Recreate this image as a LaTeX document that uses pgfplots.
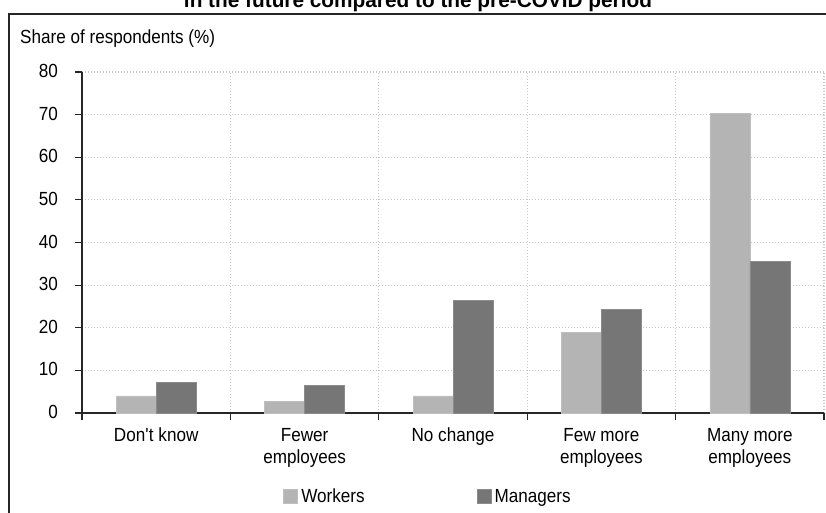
\documentclass[border=0pt]{standalone}
\usepackage{fontspec}
\setmainfont{Liberation Sans}[FakeStretch=0.9]
\newfontfamily\titlefont{Liberation Sans}
\usepackage{pgfplots}
\pgfplotsset{compat=1.18}
\definecolor{wk}{RGB}{180,180,180}
\definecolor{mg}{RGB}{118,118,118}
\definecolor{gridc}{RGB}{200,200,200}
\begin{document}
\begin{tikzpicture}[x=1pt,y=1pt,font=\fontsize{19}{22}\selectfont]
\useasboundingbox (-82,-99) rectangle (744,413);
\draw[line width=1.3pt, black!85] (-73,399) rectangle (790,-140);
\node[anchor=base, font=\titlefont\fontsize{20.8}{22}\selectfont\bfseries] at (336,405.5) {in the future compared to the pre-COVID period};
\node[anchor=base west, inner sep=0pt] at (-62,369) {Share of respondents (\%)};
\begin{axis}[
  at={(0,0)}, anchor=south west,
  scale only axis, width=742pt, height=341pt,
  xmin=-0.5, xmax=4.5, ymin=0, ymax=80,
  /pgfplots/ybar legend/.style={/pgfplots/legend image code/.code={\fill[##1] (0pt,-7pt) rectangle (14pt,7pt);}},
  ybar=0pt, bar width=40pt,
  axis x line*=bottom, axis y line*=left,
  axis line style={line width=1.3pt, black!85, -},
  tick align=outside,
  major tick length=0pt, minor tick length=6.5pt,
  tick style={line width=1.2pt, black!85},
  ytick={0,10,...,80},
  minor ytick={0,10,...,80},
  xtick={0,1,2,3,4},
  minor xtick={-0.5,0.5,1.5,2.5,3.5,4.5},
  xticklabels={Don\textquotesingle t know, Fewer\\employees, No change, Few more\\employees, Many more\\employees},
  /pgf/number format/assume math mode=true,
  tick label style={font=\fontsize{19}{22}\selectfont},
  xticklabel style={align=center, anchor=north, inner sep=0pt, yshift=-15pt},
  yticklabel style={anchor=east, inner sep=0pt, xshift=-24pt, yshift=1pt},
  ymajorgrids, xminorgrids,
  major grid style={gridc, line width=1.2pt, dash pattern=on 1.2pt off 1.8pt},
  minor grid style={gridc, line width=1.2pt, dash pattern=on 1.2pt off 1.8pt},
  legend columns=2,
  legend style={at={(axis description cs:0.2713,-0.2449)}, anchor=west, draw=none, fill=none,
    inner sep=0pt, outer sep=0pt, nodes={inner sep=0pt}, font=\fontsize{19}{22}\selectfont,
    /tikz/every odd column/.append style={column sep=3.4pt},
    /tikz/every even column/.append style={column sep=112pt}},
]
\addplot[fill=wk, draw=wk!85!white, line width=0.6pt] coordinates {(0,4.0) (1,2.8) (2,4.0) (3,19.0) (4,70.2)};
\addlegendentry{Workers}
\addplot[fill=mg, draw=mg!85!white, line width=0.6pt] coordinates {(0,7.2) (1,6.5) (2,26.4) (3,24.4) (4,35.5)};
\addlegendentry{Managers}
\end{axis}
\end{tikzpicture}
\end{document}
